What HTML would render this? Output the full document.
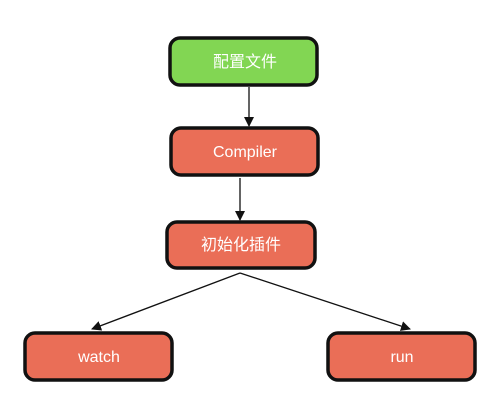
<!DOCTYPE html>
<html><head><meta charset="utf-8"><style>
body{margin:0;background:#fff;width:503px;height:409px;overflow:hidden}
</style></head><body>
<svg width="503" height="409" xmlns="http://www.w3.org/2000/svg" font-family="Liberation Sans, Noto Sans CJK SC, sans-serif">
<defs><marker id="a" markerWidth="10" markerHeight="10" refX="9" refY="5" orient="auto" markerUnits="userSpaceOnUse"><path d="M0,0 L10,5 L0,10 z" fill="#111"/></marker></defs>
<g stroke="#111" stroke-width="3.5">
<rect x="170" y="38" width="147" height="47" rx="10" fill="#82d653"/>
<rect x="171" y="128" width="147" height="47" rx="10" fill="#ea6e57"/>
<rect x="167" y="222" width="148" height="46" rx="10" fill="#ea6e57"/>
<rect x="25" y="333" width="147" height="47" rx="10" fill="#ea6e57"/>
<rect x="328" y="333" width="147" height="47" rx="10" fill="#ea6e57"/>
</g>
<g stroke="#111" stroke-width="1.3" fill="none">
<line x1="249" y1="87" x2="249" y2="126" marker-end="url(#a)"/>
<line x1="240" y1="178" x2="240" y2="220" marker-end="url(#a)"/>
<line x1="240" y1="273" x2="92" y2="329" marker-end="url(#a)"/>
<line x1="240" y1="273" x2="410" y2="329" marker-end="url(#a)"/>
</g>
<g fill="#fff" font-size="16" text-anchor="middle">
<text x="245" y="67">配置文件</text>
<text x="245" y="157">Compiler</text>
<text x="241" y="250">初始化插件</text>
<text x="99" y="362">watch</text>
<text x="402" y="362">run</text>
</g>
</svg>
</body></html>
